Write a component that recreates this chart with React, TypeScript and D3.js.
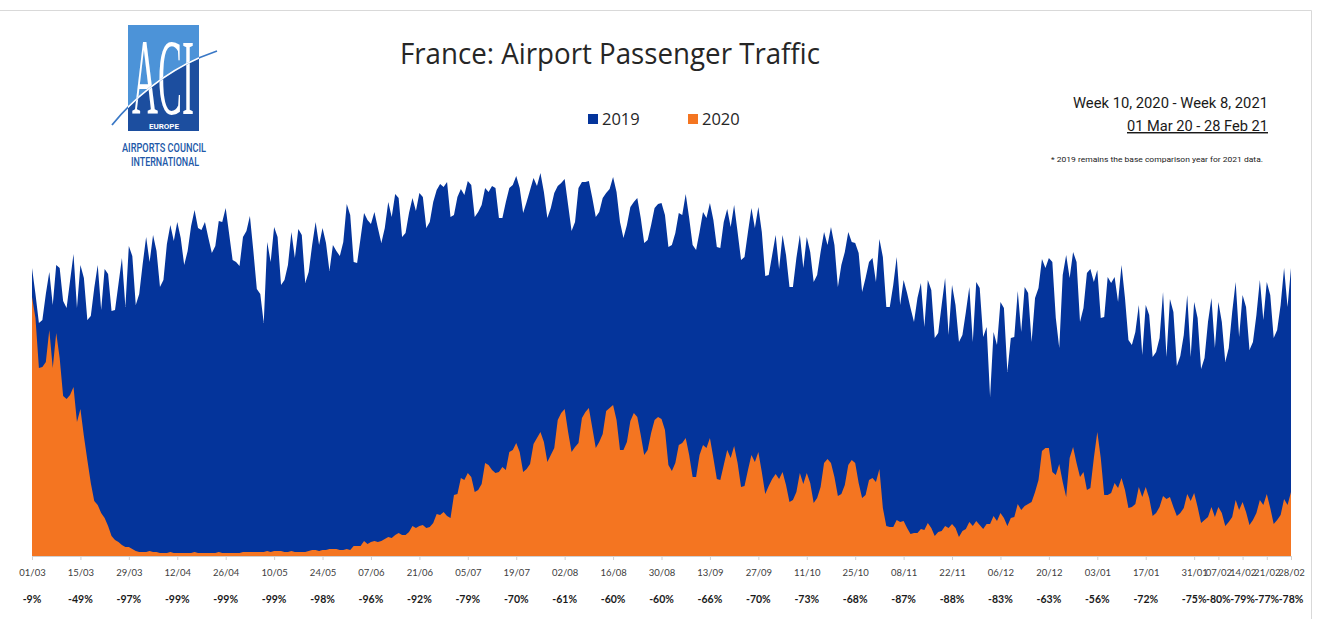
import { useEffect, useRef } from 'react';
import * as d3 from 'd3';

const START = new Date(2020, 2, 1);

// Daily passengers (thousands), 01 Mar 20 - 28 Feb 21.
// 2019 = comparison days aligned by weekday.
const PAX_2019: number[] = [
  288, 262, 233, 236, 262, 284, 251,
  291, 288, 255, 248, 275, 302, 248,
  291, 278, 236, 240, 268, 291, 246,
  287, 282, 245, 246, 272, 298, 249,
  310, 300, 251, 262, 292, 319, 294,
  321, 305, 269, 276, 312, 331, 315,
  334, 318, 291, 305, 330, 346, 328,
  326, 334, 318, 303, 310, 335, 334,
  348, 322, 296, 294, 290, 319, 325,
  340, 305, 267, 262, 233, 314, 294,
  329, 319, 271, 276, 291, 324, 298,
  327, 321, 273, 284, 311, 334, 311,
  328, 313, 285, 311, 305, 300, 314,
  352, 341, 294, 293, 318, 343, 336,
  332, 344, 328, 313, 328, 354, 339,
  362, 358, 319, 323, 343, 358, 345,
  363, 359, 328, 334, 354, 366, 372,
  369, 374, 339, 341, 359, 367, 361,
  375, 371, 339, 344, 351, 368, 364,
  370, 368, 338, 338, 354, 368, 371,
  380, 368, 343, 354, 366, 378, 370,
  383, 364, 338, 348, 363, 370, 373,
  377, 351, 325, 334, 368, 374, 374,
  375, 358, 339, 344, 358, 363, 367,
  379, 364, 334, 318, 331, 349, 354,
  358, 338, 313, 316, 331, 348, 352,
  353, 341, 309, 311, 323, 343, 341,
  362, 338, 311, 306, 324, 344, 338,
  353, 336, 309, 308, 334, 347, 329,
  351, 324, 296, 299, 324, 348, 328,
  349, 324, 280, 281, 301, 321, 287,
  321, 301, 269, 269, 298, 321, 288,
  319, 304, 274, 281, 304, 324, 311,
  329, 311, 269, 291, 304, 324, 314,
  313, 303, 264, 278, 294, 298, 274,
  317, 299, 249, 249, 271, 299, 251,
  276, 263, 248, 234, 258, 273, 229,
  276, 266, 218, 223, 251, 278, 221,
  271, 251, 214, 221, 244, 269, 214,
  274, 268, 219, 229, 159, 224, 211,
  254, 248, 184, 218, 219, 265, 224,
  269, 263, 214, 258, 268, 297, 288,
  298, 294, 238, 208, 281, 301, 278,
  304, 294, 234, 248, 283, 287, 274,
  286, 238, 239, 279, 273, 279, 254,
  291, 258, 216, 211, 224, 251, 201,
  251, 241, 199, 204, 218, 264, 199,
  257, 244, 190, 200, 221, 261, 199,
  254, 238, 187, 198, 234, 258, 208,
  254, 234, 194, 208, 244, 274, 219,
  261, 249, 206, 214, 241, 276, 236,
  274, 261, 218, 226, 251, 288, 249,
  288,
];

const PAX_2020: number[] = [
  259, 238, 188, 189, 194, 226, 188,
  223, 198, 160, 157, 161, 169, 134,
  147, 120, 96, 73, 55, 51, 43,
  38, 30, 20, 16, 14, 11, 9,
  9, 7, 5, 4, 4, 4, 5,
  4, 4, 3, 3, 3, 4, 3,
  3, 3, 3, 3, 3, 4, 3,
  3, 3, 3, 3, 3, 4, 3,
  3, 3, 3, 3, 3, 4, 4,
  4, 4, 4, 4, 4, 5, 4,
  5, 5, 5, 4, 4, 5, 4,
  4, 4, 4, 5, 6, 6, 5,
  6, 6, 7, 7, 7, 6, 6,
  7, 6, 10, 10, 10, 15, 12,
  14, 15, 14, 15, 17, 19, 18,
  21, 23, 21, 21, 24, 30, 28,
  30, 31, 28, 29, 33, 42, 41,
  44, 40, 38, 61, 62, 78, 76,
  83, 79, 64, 66, 72, 93, 91,
  86, 83, 84, 89, 86, 104, 106,
  113, 104, 84, 87, 92, 112, 118,
  124, 114, 94, 101, 108, 136, 143,
  147, 124, 104, 109, 113, 138, 144,
  148, 128, 108, 114, 122, 145, 148,
  151, 136, 106, 106, 114, 135, 143,
  139, 121, 101, 106, 123, 136, 139,
  137, 126, 91, 85, 93, 111, 113,
  118, 101, 79, 79, 101, 111, 108,
  118, 98, 77, 76, 91, 106, 98,
  110, 93, 69, 70, 86, 101, 94,
  104, 84, 62, 70, 77, 82, 77,
  84, 71, 54, 56, 64, 83, 72,
  83, 73, 53, 58, 69, 93, 97,
  93, 79, 60, 62, 71, 91, 96,
  93, 73, 58, 61, 76, 78, 74,
  87, 48, 30, 29, 29, 36, 34,
  35, 28, 22, 23, 23, 27, 26,
  33, 28, 20, 24, 25, 30, 28,
  32, 28, 19, 25, 27, 34, 30,
  35, 31, 27, 32, 32, 40, 35,
  43, 38, 30, 38, 39, 52, 46,
  50, 52, 54, 64, 76, 105, 108,
  108, 84, 81, 92, 74, 59, 98,
  109, 93, 79, 84, 66, 68, 98,
  124, 98, 61, 61, 63, 73, 68,
  78, 66, 48, 49, 52, 69, 59,
  69, 58, 40, 43, 49, 60, 57,
  59, 49, 40, 43, 48, 62, 55,
  63, 49, 33, 36, 39, 49, 39,
  49, 43, 30, 34, 39, 56, 46,
  54, 44, 31, 36, 43, 56, 51,
  62, 48, 32, 36, 41, 57, 51,
  64,
];

const TICK_LABELS = [
  '01/03', '15/03', '29/03', '12/04', '26/04', '10/05', '24/05', '07/06', '21/06', '05/07',
  '19/07', '02/08', '16/08', '30/08', '13/09', '27/09', '11/10', '25/10', '08/11', '22/11',
  '06/12', '20/12', '03/01', '17/01', '31/01', '07/02', '14/02', '21/02', '28/02',
];
const PCT_LABELS = [
  '-9%', '-49%', '-97%', '-99%', '-99%', '-99%', '-98%', '-96%', '-92%', '-79%',
  '-70%', '-61%', '-60%', '-60%', '-66%', '-70%', '-73%', '-68%', '-87%', '-88%',
  '-83%', '-63%', '-56%', '-72%', '-75%', '-80%', '-79%', '-77%', '-78%',
];

const BLUE = '#04349B';
const ORANGE = '#F47521';
const W = 1323;
const H = 619;

function dayOf(label: string) {
  const [dd, mm] = label.split('/').map(Number);
  const date = new Date(mm >= 3 ? 2020 : 2021, mm - 1, dd);
  return d3.timeDay.count(START, date);
}

export default function App() {
  const svgRef = useRef<SVGSVGElement>(null);

  useEffect(() => {
    const svg = d3.select(svgRef.current!);
    svg.selectAll('*').remove();

    const x = d3.scaleLinear().domain([0, PAX_2019.length - 1]).range([32, 1291]);
    const y = d3.scaleLinear().domain([0, 400]).range([556, 156]);

    // chart frame: only top and right edges show
    svg.append('path').attr('d', 'M0,10.5 H1311.5 V619').attr('fill', 'none').attr('stroke', '#d9d9d9');

    // areas: 2019 behind, 2020 in front
    const area = d3.area<number>().x((_, i) => x(i)).y0(y(0)).y1((d) => y(d));
    svg.append('path').attr('d', area(PAX_2019) ?? '').attr('fill', BLUE);
    svg.append('path').attr('d', area(PAX_2020) ?? '').attr('fill', ORANGE);

    // x axis
    const tickDays = TICK_LABELS.map(dayOf);
    const axis = svg.append('g').attr('transform', `translate(0,${y(0)})`)
      .call(d3.axisBottom(x).tickValues(tickDays).tickFormat((_, i) => TICK_LABELS[i])
        .tickSize(4).tickSizeOuter(0).tickPadding(9));
    axis.select('.domain').attr('stroke', '#d0d0d0');
    axis.selectAll('.tick line').attr('stroke', '#d0d0d0');
    axis.selectAll('.tick text').attr('font-family', 'Lato, "Open Sans", sans-serif')
      .attr('font-size', 9.5).attr('fill', '#404040');

    // % change row
    svg.append('g').selectAll('text').data(PCT_LABELS).join('text')
      .attr('x', (_, i) => x(tickDays[i])).attr('y', 603)
      .attr('text-anchor', 'middle').attr('font-family', 'Lato, "Open Sans", sans-serif')
      .attr('font-size', 10.5).attr('font-weight', 700).attr('fill', '#1a1a1a')
      .text((d) => d);

    // Title
    svg.append('text').attr('x', 610).attr('y', 64).attr('text-anchor', 'middle')
      .attr('font-family', '"Open Sans", sans-serif').attr('font-size', 29).attr('fill', '#262626')
      .attr('textLength', 420).attr('lengthAdjust', 'spacingAndGlyphs')
      .text('France: Airport Passenger Traffic');

    // Legend
    const legend = [
      { label: '2019', color: BLUE, x: 588 },
      { label: '2020', color: ORANGE, x: 688 },
    ];
    const lg = svg.append('g').selectAll('g').data(legend).join('g')
      .attr('transform', (d) => `translate(${d.x},114)`);
    lg.append('rect').attr('width', 10).attr('height', 10).attr('fill', (d) => d.color);
    lg.append('text').attr('x', 14).attr('y', 11).attr('font-family', '"Open Sans", sans-serif')
      .attr('font-size', 16.5).attr('fill', '#262626').text((d) => d.label);

    // Period note (top right)
    const note = svg.append('g').attr('font-family', 'Roboto, "Open Sans", sans-serif').attr('fill', '#1a1a1a')
      .attr('text-anchor', 'end');
    note.append('text').attr('x', 1268).attr('y', 108).attr('font-size', 14.5)
      .attr('textLength', 195).attr('lengthAdjust', 'spacingAndGlyphs')
      .text('Week 10, 2020 - Week 8, 2021');
    note.append('text').attr('x', 1268).attr('y', 131).attr('font-size', 14.5)
      .attr('textLength', 141).attr('lengthAdjust', 'spacingAndGlyphs')
      .attr('text-decoration', 'underline').text('01 Mar 20 - 28 Feb 21');
    note.append('text').attr('x', 1263).attr('y', 162).attr('font-size', 8)
      .attr('textLength', 212).attr('lengthAdjust', 'spacingAndGlyphs')
      .text('* 2019 remains the base comparison year for 2021 data.');

    // ACI Europe logo
    const swoosh = 'M112,125 C128,105 165,68 217,51';
    svg.append('defs').append('clipPath').attr('id', 'logo-clip')
      .append('rect').attr('x', 128).attr('y', 25).attr('width', 71).attr('height', 106);
    const logo = svg.append('g');
    logo.append('rect').attr('x', 128).attr('y', 25).attr('width', 71).attr('height', 106).attr('fill', '#4C93D8');
    logo.append('path').attr('d', `${swoosh} L217,131 L112,131 Z`).attr('fill', '#1C4E9F')
      .attr('clip-path', 'url(#logo-clip)');
    logo.append('text').attr('x', 163).attr('y', 114).attr('text-anchor', 'middle')
      .attr('font-family', '"Liberation Serif", "DejaVu Serif", serif').attr('font-size', 108)
      .attr('fill', '#fff').attr('textLength', 62).attr('lengthAdjust', 'spacingAndGlyphs').text('ACI');
    logo.append('path').attr('d', swoosh).attr('fill', 'none')
      .attr('stroke', '#3A78C6').attr('stroke-width', 1.8);
    logo.append('path').attr('d', swoosh).attr('fill', 'none')
      .attr('stroke', '#fff').attr('stroke-width', 1.6).attr('clip-path', 'url(#logo-clip)');
    logo.append('text').attr('x', 164).attr('y', 129).attr('text-anchor', 'middle')
      .attr('font-family', 'Roboto, sans-serif').attr('font-size', 8).attr('font-weight', 700)
      .attr('fill', '#fff').text('EUROPE');
    logo.append('text').attr('x', 164).attr('y', 152).attr('text-anchor', 'middle')
      .attr('font-family', 'Roboto, sans-serif').attr('font-size', 12.5).attr('font-weight', 500)
      .attr('fill', '#2158A8').attr('textLength', 84).attr('lengthAdjust', 'spacingAndGlyphs')
      .text('AIRPORTS COUNCIL');
    logo.append('text').attr('x', 165).attr('y', 166).attr('text-anchor', 'middle')
      .attr('font-family', 'Roboto, sans-serif').attr('font-size', 12.5).attr('font-weight', 500)
      .attr('fill', '#2158A8').attr('textLength', 68).attr('lengthAdjust', 'spacingAndGlyphs')
      .text('INTERNATIONAL');
  }, []);

  return (
    <svg ref={svgRef} width={W} height={H}
      style={{ position: 'absolute', left: 0, top: 0, display: 'block', background: '#fff' }}
      role="img" aria-label="France: Airport Passenger Traffic" />
  );
}
